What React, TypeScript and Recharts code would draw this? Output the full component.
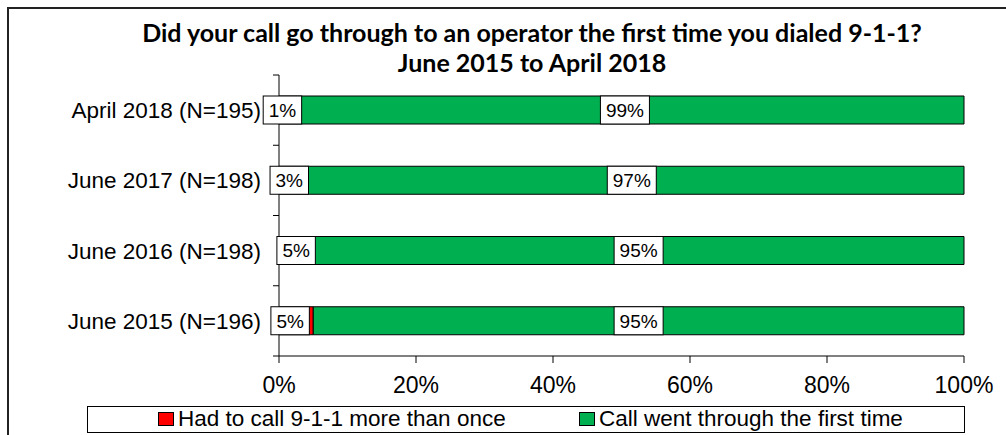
import { BarChart, Bar, XAxis, YAxis, LabelList } from "recharts";

const TITLE_LINES = [
  "Did your call go through to an operator the first time you dialed 9-1-1?",
  "June 2015 to April 2018",
];
const CATEGORIES = [
  "April 2018 (N=195)",
  "June 2017 (N=198)",
  "June 2016 (N=198)",
  "June 2015 (N=196)",
];
const MORE_THAN_ONCE = [1, 3, 5, 5];
const FIRST_TIME = [99, 97, 95, 95];
const X_TICKS = [0, 20, 40, 60, 80, 100];
const SERIES_NAMES = ["Had to call 9-1-1 more than once", "Call went through the first time"];

const RED = "#FF0000";
const GREEN = "#00B050";
const ARIAL = "'Liberation Sans', Arial, sans-serif";
const CALIBRI = "Lato, Carlito, Calibri, sans-serif";

const W = 1006;
const H = 435;
const MARGIN = { top: 75, right: 42, bottom: 29, left: 0 };
const Y_AXIS_W = 279;
const X_AXIS_H = 50;
const BAND = (H - MARGIN.top - MARGIN.bottom - X_AXIS_H) / CATEGORIES.length;
const LABEL_FONT = 19;
// the 2015 label box sits a little left of its segment in the original
const RED_LABEL_NUDGE = [0, 0, 0, -6];

const data = CATEGORIES.map((name, i) => ({
  name,
  more: MORE_THAN_ONCE[i],
  first: FIRST_TIME[i],
}));

/** rough Arial width of a "NN%" string, in em */
function pctWidthEm(s: string): number {
  return s.split("").reduce((w, c) => w + (c === "%" ? 0.889 : 0.556), 0);
}

function BoxLabel({ cx, y, height, text }: { cx: number; y: number; height: number; text: string }) {
  const w = pctWidthEm(text) * LABEL_FONT + 11;
  return (
    <g>
      <rect x={cx - w / 2} y={y} width={w} height={height} fill="#fff" stroke="#000" strokeWidth={1} />
      <text
        x={cx}
        y={y + height / 2}
        dy="0.36em"
        textAnchor="middle"
        fontSize={LABEL_FONT}
        fontFamily={ARIAL}
        fill="#000"
      >
        {text}
      </text>
    </g>
  );
}

// both label sets hang off the last (green) bar so they paint above every segment
function greenLabel(props: any) {
  const { x, y, width, height, value } = props;
  return (
    <BoxLabel cx={Number(x) + Number(width) / 2} y={Number(y)} height={Number(height)} text={`${value}%`} />
  );
}

function redLabel(props: any) {
  const { x, y, width, height, value, index } = props;
  const perUnit = Number(width) / FIRST_TIME[index];
  const cx = Number(x) - (perUnit * Number(value)) / 2 + (RED_LABEL_NUDGE[index] ?? 0);
  return <BoxLabel cx={cx} y={Number(y)} height={Number(height)} text={`${value}%`} />;
}

function CategoryTick(props: any) {
  const { y, payload, index } = props;
  const top = Number(y) - BAND / 2;
  const isLast = index === CATEGORIES.length - 1;
  return (
    <g>
      <line x1={Y_AXIS_W - 6} x2={Y_AXIS_W} y1={top} y2={top} stroke="#000" />
      {isLast && (
        <line x1={Y_AXIS_W - 6} x2={Y_AXIS_W} y1={top + BAND} y2={top + BAND} stroke="#000" />
      )}
      <text
        x={Y_AXIS_W - 18}
        y={Number(y)}
        dy="0.36em"
        textAnchor="end"
        fontSize={22.5}
        fontFamily={ARIAL}
        fill="#000"
      >
        {payload.value}
      </text>
    </g>
  );
}

export default function App() {
  return (
    <div
      style={{
        position: "absolute",
        left: 0,
        top: 0,
        width: W,
        height: H,
        overflow: "hidden",
        background: "#fff",
      }}
    >
      <div
        style={{
          position: "absolute",
          left: 7,
          top: 7,
          width: 1100,
          height: 500,
          borderLeft: "2px solid #222",
          borderTop: "2px solid #222",
        }}
      />
      <div
        style={{
          position: "absolute",
          left: 0,
          top: 17,
          width: 1064,
          textAlign: "center",
          fontFamily: CALIBRI,
          fontWeight: 700,
          fontSize: 25,
          lineHeight: "30px",
          color: "#000",
        }}
      >
        {TITLE_LINES.map((t) => (
          <div key={t}>{t}</div>
        ))}
      </div>
      <div style={{ position: "absolute", left: 0, top: 0 }}>
        <BarChart width={W} height={H} data={data} layout="vertical" margin={MARGIN} barSize={28}>
          <XAxis
            type="number"
            domain={[0, 100]}
            ticks={X_TICKS}
            height={X_AXIS_H}
            tickFormatter={(v) => `${v}%`}
            axisLine={{ stroke: "#000" }}
            tickLine={{ stroke: "#000" }}
            tickSize={7}
            tickMargin={14}
            tick={{ fontSize: 23, fontFamily: ARIAL, fill: "#000" }}
            interval={0}
          />
          <YAxis
            type="category"
            dataKey="name"
            width={Y_AXIS_W}
            axisLine={{ stroke: "#000" }}
            tickLine={false}
            tick={<CategoryTick />}
            interval={0}
          />
          <Bar dataKey="more" stackId="a" fill={RED} stroke="#000" strokeWidth={1} isAnimationActive={false} />
          <Bar dataKey="first" stackId="a" fill={GREEN} stroke="#000" strokeWidth={1} isAnimationActive={false}>
            <LabelList dataKey="first" content={greenLabel} />
            <LabelList dataKey="more" content={redLabel} />
          </Bar>
        </BarChart>
      </div>
      <div
        style={{
          position: "absolute",
          left: 87,
          top: 406,
          width: 878,
          height: 27,
          boxSizing: "border-box",
          border: "1px solid #000",
          background: "#fff",
          fontFamily: ARIAL,
          fontSize: 22.5,
          color: "#000",
        }}
      >
        {SERIES_NAMES.map((name, i) => {
          const left = i === 0 ? 70 : 491;
          return (
            <div key={name}>
              <div
                style={{
                  position: "absolute",
                  left,
                  top: 5,
                  width: 14,
                  height: 12,
                  background: i === 0 ? RED : GREEN,
                  border: "1px solid #000",
                }}
              />
              <div style={{ position: "absolute", left: left + 20, top: -1, lineHeight: "26px", whiteSpace: "nowrap" }}>
                {name}
              </div>
            </div>
          );
        })}
      </div>
    </div>
  );
}
